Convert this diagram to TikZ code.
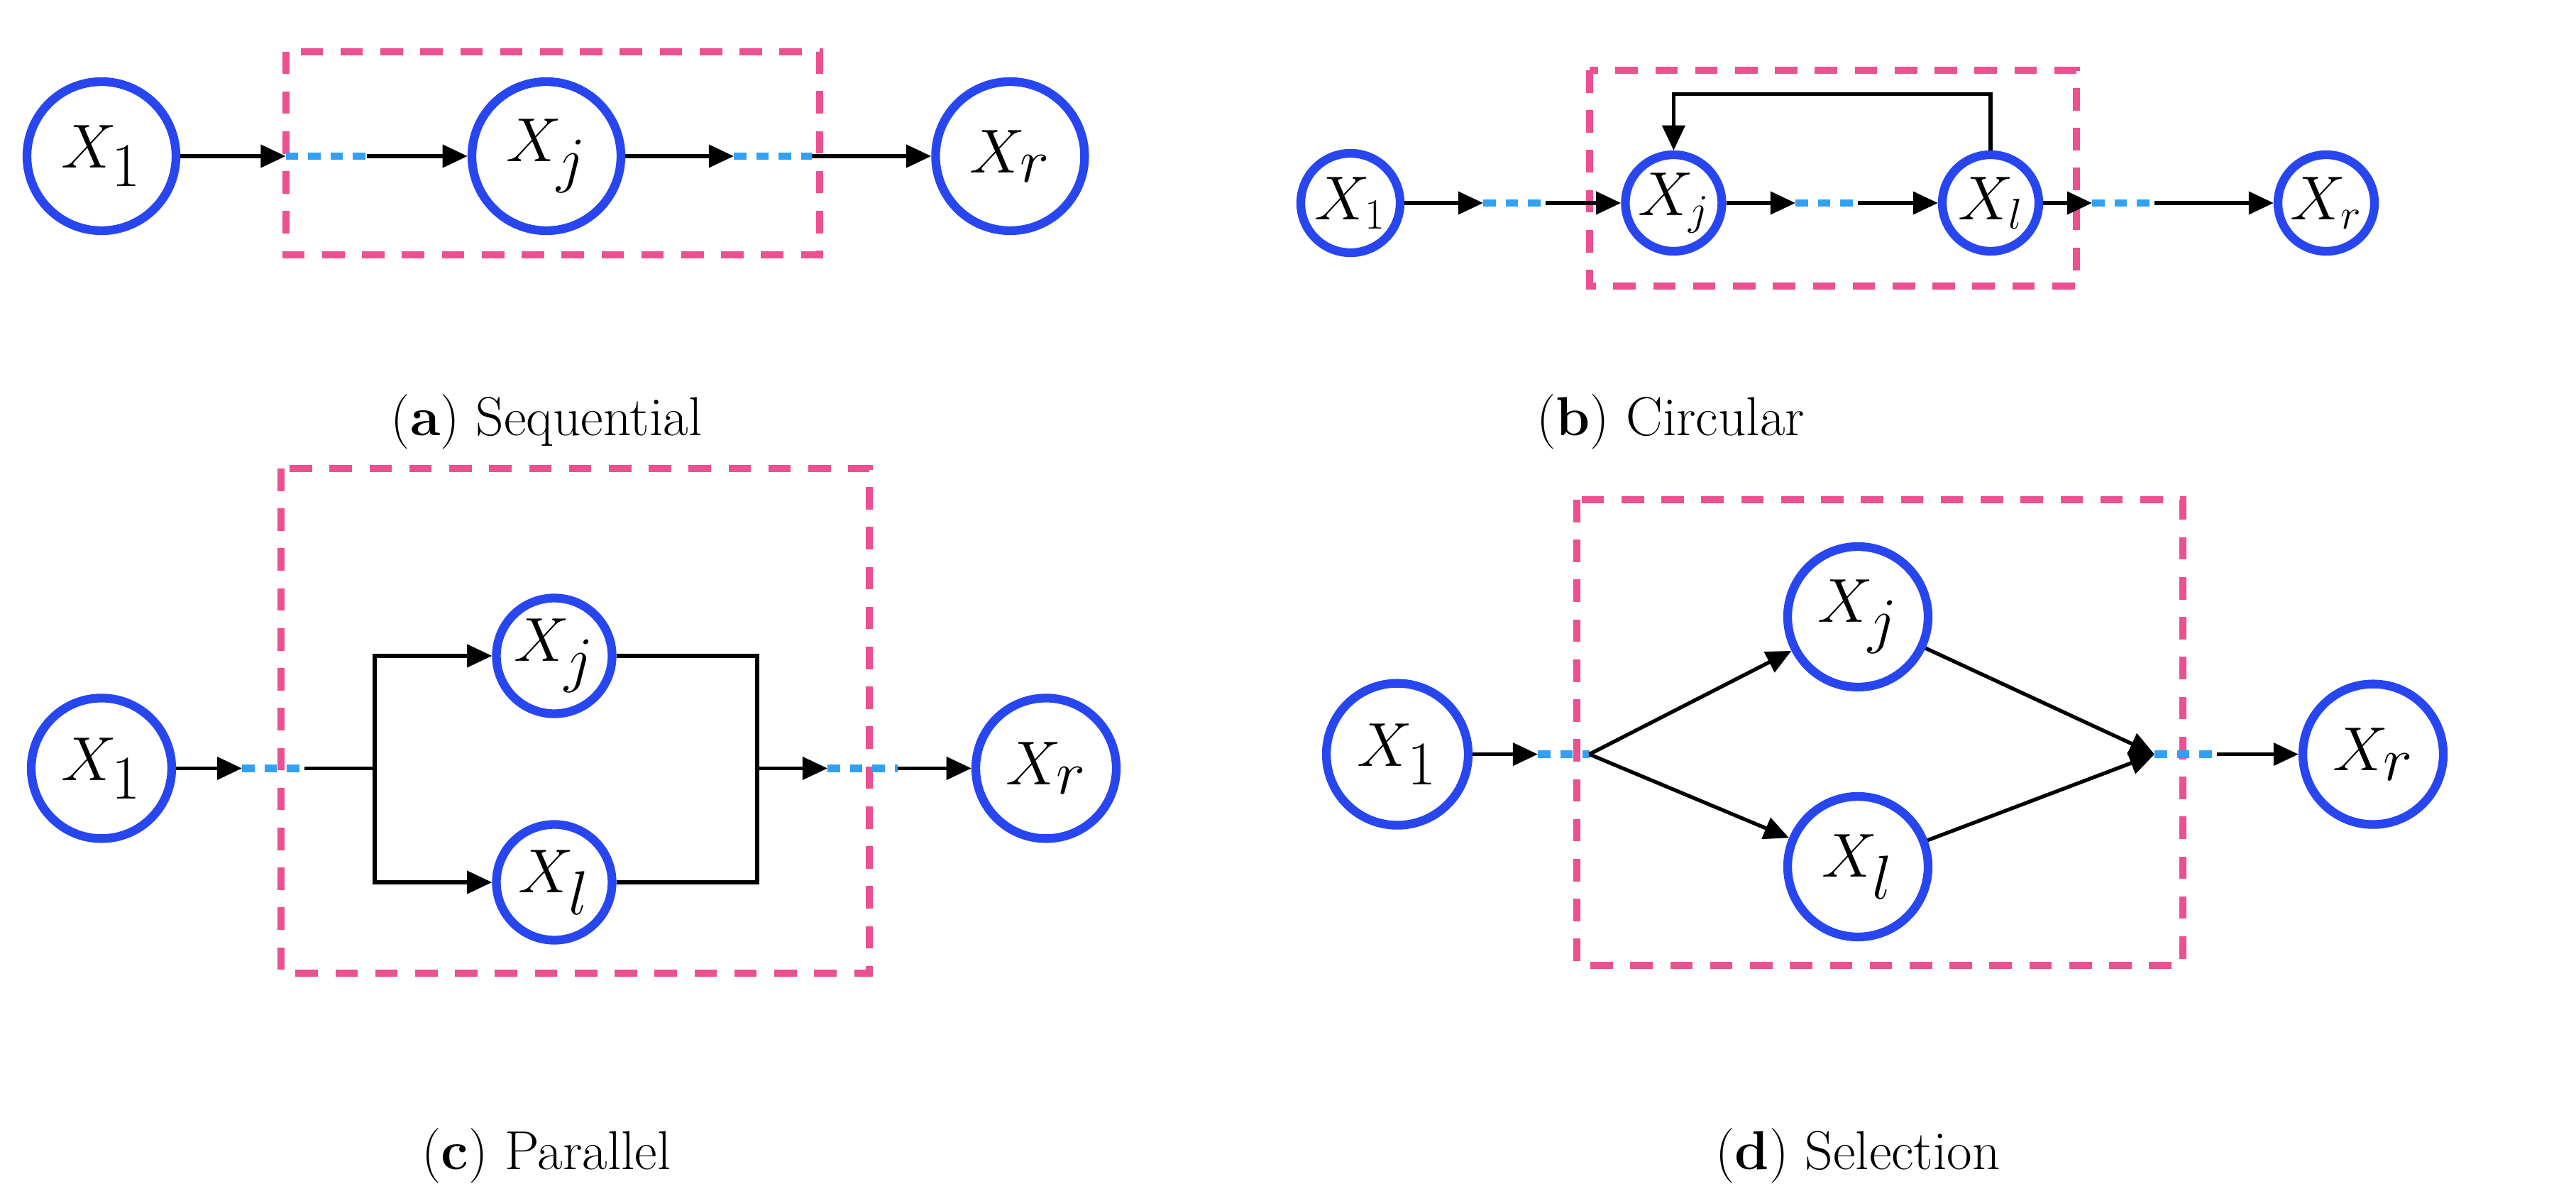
\documentclass[tikz,border=0pt]{standalone}
\usetikzlibrary{arrows.meta}
\begin{document}
\begin{tikzpicture}[x=0.022cm,y=-0.022cm,
  nd/.style={circle,draw={rgb,255:red,40;green,70;blue,240},line width=3.5pt,inner sep=0pt,minimum size=#1},
  ar/.style={-{Triangle[length=10pt,width=9pt]},line width=1.5pt},
  ln/.style={line width=1.5pt},
  dot/.style={draw={rgb,255:red,50;green,160;blue,245},line width=3pt,dash pattern=on 5pt off 4pt},
  bx/.style={draw={rgb,255:red,235;green,80;blue,145},line width=2.8pt,dash pattern=on 9pt off 7pt},
  captxt/.style={font=\fontsize{22}{26}\selectfont}]
\useasboundingbox (0,0) rectangle (1650,758);
% (a)
\begin{scope}[every node/.append style={font=\fontsize{38}{42}\selectfont}]
\node[nd=2.1cm] (a1) at (65,100) {$X_1$};
\node[nd=2.1cm] (aj) at (350,100) {$X_j$};
\node[nd=2.1cm] (ar) at (647,100) {$X_r$};
\end{scope}
\draw[bx] (183,33) rectangle (525,163);
\coordinate (ad1) at (183,100); \coordinate (ad2) at (235,100);
\coordinate (ad3) at (470,100); \coordinate (ad4) at (520,100);
\draw[ar] (a1) -- (ad1); \draw[dot] (ad1) -- (ad2); \draw[ar] (ad2) -- (aj);
\draw[ar] (aj) -- (ad3); \draw[dot] (ad3) -- (ad4); \draw[ar] (ad4) -- (ar);
\node[captxt] (capa) at (350,270) {(\textbf{a}) Sequential};
% (b)
\begin{scope}[every node/.append style={font=\fontsize{27}{30}\selectfont}]
\node[nd=1.4cm] (b1) at (865,130) {$X_1$};
\node[nd=1.36cm] (bj) at (1072,130) {$X_j$};
\node[nd=1.36cm] (bl) at (1275,130) {$X_l$};
\node[nd=1.36cm] (br) at (1490,130) {$X_r$};
\end{scope}
\draw[bx] (1018,45) rectangle (1330,183);
\coordinate (bd1) at (950,130); \coordinate (bd2) at (990,130);
\coordinate (bd3) at (1150,130); \coordinate (bd4) at (1190,130);
\coordinate (bd5) at (1340,130); \coordinate (bd6) at (1380,130);
\draw[ar] (b1) -- (bd1); \draw[dot] (bd1) -- (bd2); \draw[ar] (bd2) -- (bj);
\draw[ar] (bj) -- (bd3); \draw[dot] (bd3) -- (bd4); \draw[ar] (bd4) -- (bl);
\draw[ar] (bl) -- (bd5); \draw[dot] (bd5) -- (bd6); \draw[ar] (bd6) -- (br);
\draw[ar] (bl.north) -- ++(0,-36) -| (bj.north);
\node[captxt] (capb) at (1070,270) {(\textbf{b}) Circular};
% (c)
\begin{scope}[every node/.append style={font=\fontsize{33}{36}\selectfont}]
\node[nd=1.98cm] (c1) at (65,492) {$X_1$};
\node[nd=1.63cm] (cj) at (355,420) {$X_j$};
\node[nd=1.63cm] (cl) at (355,565) {$X_l$};
\node[nd=1.98cm] (cr) at (670,492) {$X_r$};
\end{scope}
\draw[bx] (180,300) rectangle (557,623);
\coordinate (cd1) at (155,492); \coordinate (cd2) at (195,492);
\coordinate (cs) at (240,492); \coordinate (cm) at (485,492);
\coordinate (cd3) at (530,492); \coordinate (cd4) at (575,492);
\draw[ar] (c1) -- (cd1); \draw[dot] (cd1) -- (cd2); \draw[ln] (cd2) -- (cs);
\draw[ar] (cs) |- (cj); \draw[ar] (cs) |- (cl);
\draw[ln] (cj) -| (cm); \draw[ln] (cl) -| (cm);
\draw[ar] (cm) -- (cd3); \draw[dot] (cd3) -- (cd4); \draw[ar] (cd4) -- (cr);
\node[captxt] (capc) at (350,740) {(\textbf{c}) Parallel};
% (d)
\begin{scope}[every node/.append style={font=\fontsize{36}{40}\selectfont}]
\node[nd=2.0cm] (d1) at (895,483) {$X_1$};
\node[nd=1.98cm] (dj) at (1190,395) {$X_j$};
\node[nd=1.98cm] (dl) at (1190,555) {$X_l$};
\node[nd=1.98cm] (dr) at (1520,483) {$X_r$};
\end{scope}
\draw[bx] (1010,320) rectangle (1398,618);
\coordinate (dd1) at (985,483); \coordinate (dd2) at (1018,483);
\coordinate (dd3) at (1380,483); \coordinate (dd4) at (1420,483);
\draw[ar] (d1) -- (dd1); \draw[dot] (dd1) -- (dd2);
\draw[ar] (dd2) -- (dj); \draw[ar] (dd2) -- (dl);
\draw[ar] (dj) -- (dd3); \draw[ar] (dl) -- (dd3);
\draw[dot] (dd3) -- (dd4); \draw[ar] (dd4) -- (dr);
\node[captxt] (capd) at (1190,740) {(\textbf{d}) Selection};
\end{tikzpicture}
\end{document}
